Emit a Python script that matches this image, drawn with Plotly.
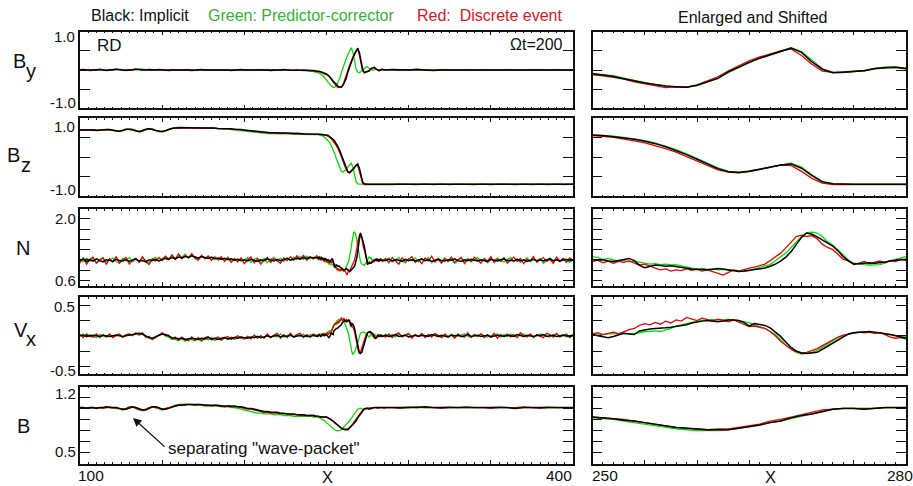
import plotly.graph_objects as go

W, H = 913, 486
FONT = "Liberation Sans, Arial, Helvetica, sans-serif"

# ---------------------------------------------------------------- grids
# smooth fields (By, Bz, |B|): coarse outside the front, unit spacing across it
X_SMOOTH = list(range(100, 241, 2)) + list(range(241, 287)) + list(range(290, 401, 5))
# noisy fields (N, Vx): half-unit spacing across the front
X_NOISY = list(range(100, 245, 2)) + [244.5 + 0.5 * i for i in range(80)] + list(range(286, 401, 2))

# predictor-corrector curves are shifted by this much in the enlarged column
GREEN_SHIFT = 4.0

# ---------------------------------------------------------------- By
BY_BLACK = [
    0.00, 0.01, 0.00, -0.01, 0.00, 0.01, 0.01, 0.00, -0.01, 0.00,
    0.01, 0.02, 0.01, 0.00, -0.01, 0.00, 0.01, 0.02, 0.01, 0.00,
    0.00, 0.01, 0.00, 0.00, 0.01, 0.00, 0.00, -0.01, 0.00, 0.00,
    0.00, 0.01, 0.00, 0.00, -0.01, 0.00, 0.00, 0.01, 0.00, 0.00,
    0.00, 0.00, 0.01, 0.00, 0.00, 0.00, -0.01, 0.00, 0.00, 0.01,
    0.00, 0.00, 0.00, 0.01, 0.00, 0.00, 0.00, 0.00, -0.01, 0.00,
    0.00, 0.00, 0.01, 0.00, 0.00, 0.00, 0.00, -0.01, -0.01, -0.01,
    -0.01,
    -0.01, -0.01, -0.02, -0.02, -0.03, -0.04, -0.05, -0.07, -0.08, -0.10,
    -0.13, -0.17, -0.23, -0.29, -0.34, -0.38, -0.42, -0.44, -0.45, -0.40,
    -0.30, -0.22, -0.05, 0.08, 0.20, 0.31, 0.40, 0.48, 0.57, 0.46,
    0.21, 0.02, -0.07, -0.06, -0.04, -0.02, 0.03, 0.06, 0.07, 0.03,
    0.00, -0.02, 0.00, 0.02, 0.01, 0.00,
    0.01, 0.00, 0.00, 0.01, 0.00, -0.01, 0.00, 0.00, 0.01, 0.00, 0.00, 0.00,
    0.01, 0.00, 0.00, 0.00, 0.00, 0.01, 0.00, 0.00, 0.00, 0.00, 0.00,
]
BY_RED = [
    0.01, -0.01, 0.00, 0.01, 0.00, -0.01, 0.02, 0.00, -0.01, 0.01,
    0.00, 0.02, 0.01, -0.01, 0.00, 0.01, 0.00, 0.02, 0.01, -0.01,
    0.01, 0.00, -0.01, 0.01, 0.00, 0.01, -0.01, 0.00, 0.01, 0.00,
    -0.01, 0.01, 0.00, 0.00, 0.01, -0.01, 0.00, 0.01, 0.00, -0.01,
    0.00, 0.01, 0.00, 0.01, -0.01, 0.00, 0.00, 0.01, -0.01, 0.00,
    0.01, 0.00, -0.01, 0.00, 0.01, 0.00, 0.00, -0.01, 0.00, 0.01,
    0.00, -0.01, 0.00, 0.01, 0.00, -0.01, 0.00, -0.01, 0.00, -0.01,
    -0.01,
    -0.01, -0.02, -0.02, -0.03, -0.04, -0.05, -0.06, -0.08, -0.10, -0.12,
    -0.15, -0.19, -0.24, -0.31, -0.36, -0.42, -0.46, -0.44, -0.45, -0.39,
    -0.28, -0.18, -0.02, 0.12, 0.24, 0.34, 0.43, 0.50, 0.55, 0.38,
    0.15, -0.03, -0.06, -0.05, -0.03, -0.02, 0.04, 0.06, 0.07, 0.03,
    0.00, -0.02, 0.01, 0.02, 0.00, 0.01,
    0.01, -0.01, 0.00, 0.02, 0.00, -0.01, 0.01, 0.00, -0.01, 0.01, 0.00, 0.01,
    -0.01, 0.00, 0.01, 0.00, -0.01, 0.01, 0.00, 0.00, 0.01, -0.01, 0.00,
]
BY_GREEN = [
    0.00, 0.00, 0.01, 0.00, -0.01, 0.00, 0.01, 0.00, 0.00, -0.01,
    0.00, 0.01, 0.02, 0.01, 0.00, -0.01, 0.01, 0.02, 0.03, 0.02,
    0.00, -0.01, 0.00, 0.01, 0.00, 0.00, 0.01, 0.00, -0.01, 0.00,
    0.00, 0.01, 0.00, -0.01, 0.00, 0.00, 0.01, 0.00, 0.00, 0.00,
    0.01, 0.00, 0.00, -0.01, 0.00, 0.01, 0.00, 0.00, 0.00, 0.01,
    0.00, 0.00, -0.01, 0.00, 0.00, 0.01, 0.00, 0.00, -0.01, 0.00,
    0.00, 0.01, 0.00, 0.00, -0.01, -0.01, 0.00, -0.01, -0.01, -0.02,
    -0.02,
    -0.03, -0.04, -0.05, -0.07, -0.08, -0.09, -0.12, -0.15, -0.21, -0.27,
    -0.33, -0.38, -0.42, -0.45, -0.45, -0.41, -0.31, -0.22, -0.07, 0.07,
    0.19, 0.30, 0.40, 0.50, 0.58, 0.48, 0.25, 0.03, -0.06, -0.07,
    -0.04, -0.01, 0.04, 0.08, 0.08, 0.04, 0.01, -0.01, 0.00, 0.02,
    0.01, 0.00, -0.01, 0.00, 0.01, 0.00,
    0.00, 0.01, 0.00, -0.01, 0.00, 0.01, 0.00, 0.00, 0.01, 0.00, -0.01, 0.00,
    0.01, 0.00, 0.00, -0.01, 0.00, 0.01, 0.00, 0.00, 0.00, 0.01, 0.00,
]

# ---------------------------------------------------------------- Bz
BZ_BLACK = [
    0.70, 0.70, 0.71, 0.70, 0.70, 0.69, 0.70, 0.70, 0.71, 0.71,
    0.70, 0.68, 0.67, 0.69, 0.72, 0.72, 0.71, 0.68, 0.66, 0.68,
    0.72, 0.73, 0.72, 0.69, 0.67, 0.66, 0.68, 0.72, 0.74, 0.75,
    0.76, 0.76, 0.76, 0.76, 0.76, 0.76, 0.75, 0.75, 0.75, 0.75,
    0.75, 0.75, 0.74, 0.74, 0.74, 0.73, 0.73, 0.72, 0.72, 0.71,
    0.70, 0.69, 0.68, 0.67, 0.66, 0.65, 0.64, 0.63, 0.63, 0.63,
    0.62, 0.62, 0.62, 0.62, 0.61, 0.61, 0.61, 0.61, 0.60, 0.60,
    0.60,
    0.60, 0.60, 0.60, 0.60, 0.59, 0.59, 0.59, 0.58, 0.58, 0.57,
    0.56, 0.53, 0.50, 0.46, 0.41, 0.35, 0.27, 0.18, 0.07, -0.05,
    -0.18, -0.29, -0.37, -0.39, -0.36, -0.31, -0.26, -0.20, -0.17, -0.28,
    -0.47, -0.63, -0.68, -0.69, -0.69, -0.69, -0.69, -0.69, -0.69, -0.69,
    -0.69, -0.69, -0.69, -0.69, -0.69, -0.69,
    -0.69, -0.69, -0.70, -0.69, -0.69, -0.69, -0.70, -0.69, -0.69, -0.69, -0.69, -0.70,
    -0.69, -0.69, -0.69, -0.69, -0.70, -0.69, -0.69, -0.69, -0.69, -0.69, -0.69,
]
BZ_RED = [
    0.70, 0.71, 0.70, 0.70, 0.71, 0.69, 0.70, 0.71, 0.70, 0.71,
    0.69, 0.67, 0.67, 0.70, 0.72, 0.71, 0.70, 0.67, 0.66, 0.69,
    0.72, 0.73, 0.71, 0.68, 0.66, 0.66, 0.69, 0.73, 0.74, 0.75,
    0.75, 0.76, 0.75, 0.76, 0.75, 0.76, 0.75, 0.74, 0.75, 0.74,
    0.75, 0.74, 0.74, 0.73, 0.74, 0.73, 0.72, 0.72, 0.71, 0.71,
    0.69, 0.68, 0.68, 0.66, 0.65, 0.64, 0.64, 0.63, 0.62, 0.63,
    0.62, 0.61, 0.62, 0.61, 0.61, 0.60, 0.61, 0.60, 0.60, 0.60,
    0.60,
    0.60, 0.60, 0.59, 0.60, 0.59, 0.58, 0.58, 0.57, 0.57, 0.56,
    0.54, 0.51, 0.47, 0.42, 0.37, 0.30, 0.22, 0.13, 0.02, -0.10,
    -0.22, -0.32, -0.38, -0.40, -0.37, -0.31, -0.25, -0.20, -0.21, -0.36,
    -0.54, -0.66, -0.70, -0.70, -0.70, -0.70, -0.70, -0.70, -0.70, -0.71,
    -0.70, -0.70, -0.70, -0.70, -0.70, -0.70,
    -0.70, -0.69, -0.70, -0.70, -0.69, -0.70, -0.69, -0.70, -0.69, -0.70, -0.70, -0.69,
    -0.70, -0.69, -0.70, -0.70, -0.69, -0.70, -0.69, -0.70, -0.69, -0.70, -0.69,
]
BZ_GREEN = [
    0.70, 0.70, 0.70, 0.71, 0.70, 0.70, 0.69, 0.70, 0.71, 0.70,
    0.69, 0.67, 0.66, 0.68, 0.71, 0.73, 0.72, 0.68, 0.65, 0.67,
    0.71, 0.74, 0.73, 0.69, 0.66, 0.65, 0.67, 0.72, 0.75, 0.76,
    0.77, 0.77, 0.76, 0.76, 0.76, 0.75, 0.75, 0.75, 0.74, 0.74,
    0.74, 0.74, 0.73, 0.73, 0.72, 0.72, 0.71, 0.70, 0.69, 0.68,
    0.67, 0.66, 0.65, 0.64, 0.63, 0.62, 0.62, 0.61, 0.61, 0.61,
    0.60, 0.60, 0.60, 0.60, 0.60, 0.59, 0.59, 0.59, 0.59, 0.59,
    0.59,
    0.59, 0.59, 0.59, 0.58, 0.58, 0.57, 0.56, 0.54, 0.51, 0.47,
    0.43, 0.37, 0.29, 0.20, 0.09, -0.03, -0.16, -0.27, -0.36, -0.38,
    -0.35, -0.30, -0.25, -0.19, -0.15, -0.25, -0.45, -0.62, -0.68, -0.69,
    -0.69, -0.69, -0.69, -0.69, -0.69, -0.69, -0.69, -0.69, -0.69, -0.69,
    -0.69, -0.69, -0.69, -0.69, -0.69, -0.69,
    -0.69, -0.69, -0.69, -0.69, -0.70, -0.69, -0.69, -0.69, -0.69, -0.69, -0.70, -0.69,
    -0.69, -0.69, -0.69, -0.70, -0.69, -0.69, -0.69, -0.69, -0.69, -0.69, -0.69,
]

# ---------------------------------------------------------------- N
N_BLACK = [
    1.05, 1.08, 1.03, 1.07, 1.04, 1.09, 1.05, 1.02, 1.07, 1.06, 1.03, 1.08, 1.05,
    1.04, 1.07, 1.03, 1.06, 1.09, 1.04, 1.05, 1.02, 1.07, 1.05, 1.08, 1.04,
    1.07, 1.10, 1.08, 1.12, 1.09, 1.13, 1.11, 1.15, 1.12, 1.16, 1.13, 1.11,
    1.14, 1.12, 1.10, 1.13, 1.09, 1.11, 1.08, 1.10, 1.07, 1.09, 1.06,
    1.08, 1.05, 1.07, 1.04, 1.08, 1.06, 1.03, 1.07, 1.05, 1.09, 1.06, 1.04, 1.08,
    1.05, 1.07, 1.10, 1.06, 1.09, 1.11, 1.08, 1.12, 1.10, 1.13, 1.11, 1.12,
    1.12, 1.10, 1.13, 1.11, 1.09, 1.12, 1.10, 1.08, 1.10, 1.07,
    1.09, 1.08, 1.06, 1.07, 1.04, 1.03, 1.05, 1.07, 1.10, 1.05,
    0.94, 0.89, 0.92, 0.95, 0.94, 0.92, 0.93, 0.91, 0.89, 0.87,
    0.86, 0.85, 0.84, 0.84, 0.85, 0.87, 0.86, 0.84, 0.82, 0.80,
    0.81, 0.83, 0.85, 0.86, 0.88, 0.92, 0.97, 1.04, 1.13, 1.25,
    1.42, 1.58, 1.68, 1.65, 1.59, 1.52, 1.46, 1.38, 1.27, 1.14,
    1.04, 0.97, 0.98, 0.99, 1.00, 0.99, 1.00, 1.02, 1.04, 1.06,
    1.07, 1.08, 1.06, 1.09, 1.05, 1.07, 1.04, 1.08, 1.06, 1.05,
    1.05, 1.08, 1.04, 1.07, 1.06, 1.03, 1.08, 1.05, 1.07, 1.04,
    1.06, 1.09, 1.05, 1.07, 1.03, 1.06, 1.08, 1.05, 1.04, 1.07,
    1.06, 1.09, 1.05, 1.03, 1.07, 1.05, 1.08, 1.06, 1.04, 1.07,
    1.05, 1.03, 1.08, 1.06, 1.04, 1.07, 1.09, 1.05, 1.06, 1.04,
    1.08, 1.05, 1.07, 1.03, 1.06, 1.08, 1.05, 1.07, 1.04, 1.06,
    1.09, 1.05, 1.07, 1.04, 1.06, 1.08, 1.05, 1.06,
]
N_RED = [
    1.00, 1.12, 0.97, 1.08, 1.13, 0.99, 1.05, 1.11, 0.96, 1.09, 1.02, 1.14, 0.99,
    1.07, 1.12, 0.97, 1.06, 1.10, 1.01, 1.14, 1.03, 0.96, 1.09, 1.04, 1.12,
    1.05, 1.15, 1.07, 1.18, 1.08, 1.20, 1.09, 1.16, 1.11, 1.21, 1.10, 1.06,
    1.17, 1.09, 1.15, 1.05, 1.13, 1.07, 1.14, 1.03, 1.12, 1.01, 1.09,
    1.02, 1.11, 0.98, 1.07, 1.13, 1.00, 1.09, 0.97, 1.06, 1.12, 1.01, 1.10, 1.04,
    0.99, 1.11, 1.05, 1.14, 1.06, 1.16, 1.08, 1.17, 1.06, 1.13, 1.09, 1.16,
    1.15, 1.09, 1.13, 1.06, 1.10, 1.05, 1.11, 1.07, 1.03, 1.08,
    1.04, 1.03, 1.06, 1.00, 1.04, 0.99, 1.03, 1.01, 1.05, 0.99,
    0.95, 0.97, 0.92, 0.88, 0.84, 0.86, 0.81, 0.84, 0.82, 0.86,
    0.83, 0.85, 0.81, 0.84, 0.80, 0.76, 0.72, 0.78, 0.83, 0.81,
    0.85, 0.88, 0.90, 0.93, 0.97, 1.05, 1.14, 1.22, 1.34, 1.48,
    1.60, 1.63, 1.60, 1.62, 1.55, 1.42, 1.35, 1.30, 1.18, 1.08,
    1.05, 0.96, 0.99, 1.03, 0.98, 1.01, 1.04, 1.00, 1.05, 1.03,
    1.08, 1.05, 1.10, 1.04, 1.07, 1.02, 1.09, 1.05, 1.08, 1.03,
    1.10, 1.00, 1.12, 1.04, 0.97, 1.11, 1.03, 1.08, 1.14, 1.01,
    1.07, 0.98, 1.11, 1.04, 1.15, 1.02, 1.08, 0.99, 1.10, 1.04,
    1.13, 1.01, 1.07, 1.12, 0.98, 1.08, 1.03, 1.13, 1.06, 0.99,
    1.10, 1.04, 1.14, 1.01, 1.08, 1.03, 1.12, 0.99, 1.06, 1.13,
    1.03, 1.10, 0.98, 1.08, 1.05, 1.14, 1.01, 1.07, 1.12, 1.03,
    1.08, 0.99, 1.13, 1.04, 1.10, 1.01, 1.11, 1.06,
]
N_GREEN = [
    1.09, 1.02, 1.11, 1.04, 1.10, 1.00, 1.08, 1.12, 1.02, 1.06, 1.11, 1.03, 0.99,
    1.10, 1.05, 1.12, 1.02, 1.08, 1.04, 1.11, 1.05, 1.00, 1.09, 1.12, 1.04,
    1.10, 1.15, 1.09, 1.17, 1.10, 1.19, 1.12, 1.20, 1.11, 1.17, 1.14, 1.08,
    1.15, 1.10, 1.16, 1.07, 1.14, 1.06, 1.11, 1.05, 1.13, 1.04, 1.10,
    1.03, 1.10, 1.05, 1.12, 1.01, 1.08, 1.11, 1.03, 1.10, 1.00, 1.08, 1.12, 1.04,
    1.10, 1.03, 1.11, 1.06, 1.13, 1.07, 1.14, 1.08, 1.15, 1.09, 1.13, 1.11,
    1.10, 1.07, 1.11, 1.14, 1.12, 1.08, 1.10, 1.06, 1.03, 1.05,
    1.02, 1.04, 1.01, 0.99, 0.97, 0.98, 0.96, 0.97, 0.95, 0.96,
    0.93, 0.90, 0.88, 0.86, 0.87, 0.85, 0.86, 0.84, 0.85, 0.83,
    0.84, 0.82, 0.80, 0.82, 0.86, 0.90, 0.93, 0.96, 1.04, 1.14,
    1.22, 1.34, 1.48, 1.60, 1.69, 1.70, 1.68, 1.60, 1.48, 1.40,
    1.29, 1.17, 1.06, 0.99, 0.97, 0.96, 0.95, 0.95, 0.96, 1.00,
    1.05, 1.08, 1.11, 1.14, 1.10, 1.12, 1.08, 1.05, 1.07, 1.04,
    1.06, 1.03, 1.07, 1.05, 1.08, 1.04, 1.06, 1.09, 1.05, 1.07,
    1.06, 1.11, 1.02, 1.08, 1.12, 1.04, 1.00, 1.10, 1.05, 1.11,
    1.02, 1.08, 1.04, 1.12, 1.00, 1.06, 1.10, 1.03, 1.11, 1.02,
    1.08, 0.99, 1.06, 1.11, 1.03, 1.10, 1.02, 1.08, 1.12, 1.04,
    1.06, 1.00, 1.09, 1.04, 1.11, 1.05, 1.02, 1.08, 1.12, 1.03,
    1.09, 1.01, 1.06, 1.11, 1.02, 1.08, 1.04, 1.10, 0.99, 1.06,
    1.11, 1.03, 1.08, 1.02, 1.10, 1.05, 1.01, 1.08,
]

# ---------------------------------------------------------------- Vx
VX_BLACK = [
    0.00, 0.01, -0.01, 0.00, 0.01, 0.00, -0.01, 0.01, 0.00, -0.01, 0.00, 0.01, 0.00, -0.01, 0.00,
    0.01, 0.02, 0.03, 0.04, 0.03, 0.00, -0.03, -0.04, -0.02, 0.01, 0.03, 0.02, -0.01, -0.03, -0.04,
    -0.05, -0.04, -0.06, -0.05, -0.04, -0.05, -0.06, -0.04, -0.05, -0.03,
    -0.05, -0.04, -0.06, -0.04, -0.03, -0.05, -0.04, -0.03, -0.04, -0.02,
    -0.03, -0.04, -0.02, -0.03, -0.01, -0.03, -0.02, 0.00, -0.02, -0.01, 0.01, -0.02,
    0.00, -0.01, 0.01, -0.02, 0.00, 0.01, -0.01, 0.00, -0.02, 0.01, -0.01,
    -0.01, 0.00, 0.02, 0.01, -0.01, 0.00, 0.02, 0.01, 0.00, 0.01,
    0.02, 0.02, 0.00, -0.02, -0.03, -0.01, 0.02, 0.04, 0.03, 0.02,
    0.08, 0.10, 0.11, 0.12, 0.12, 0.13, 0.14, 0.15, 0.16, 0.18,
    0.21, 0.23, 0.24, 0.25, 0.24, 0.23, 0.24, 0.26, 0.26, 0.25,
    0.22, 0.16, 0.20, 0.19, 0.17, 0.13, 0.06, -0.01, -0.10, -0.19,
    -0.25, -0.28, -0.29, -0.28, -0.27, -0.22, -0.17, -0.12, -0.06, -0.01,
    0.03, 0.05, 0.06, 0.07, 0.07, 0.06, 0.05, 0.04, 0.02, 0.00,
    -0.02, -0.04, -0.03, -0.01, 0.01, 0.00, -0.01, 0.01, 0.00, -0.01,
    0.01, -0.01, 0.00, 0.02, -0.01, 0.00, 0.01, -0.02, 0.00, 0.01,
    -0.01, 0.01, 0.00, -0.01, 0.02, 0.00, -0.01, 0.01, 0.00, -0.02,
    0.01, 0.00, 0.01, -0.01, 0.00, 0.02, -0.01, 0.00, 0.01, -0.01,
    0.00, 0.01, -0.02, 0.00, 0.01, 0.00, -0.01, 0.01, 0.00, -0.01,
    0.02, 0.00, -0.01, 0.01, 0.00, -0.01, 0.01, 0.00, 0.02, -0.01,
    0.00, 0.01, -0.01, 0.00, 0.01, 0.00, -0.01, 0.00,
]
VX_RED = [
    0.02, -0.03, 0.03, -0.01, -0.02, 0.03, -0.03, 0.02, -0.02, 0.03, -0.03, 0.01, 0.03, -0.03, 0.02,
    0.03, 0.00, 0.05, 0.02, 0.05, -0.02, -0.01, -0.06, -0.02, 0.01, 0.05, 0.00, 0.01, -0.05, -0.02,
    -0.07, -0.02, -0.06, -0.08, -0.02, -0.07, -0.03, -0.08, -0.03, -0.01,
    -0.07, -0.04, -0.02, -0.07, -0.03, -0.01, -0.06, -0.03, 0.00, -0.04,
    -0.05, -0.01, -0.05, 0.01, -0.04, 0.00, -0.04, 0.03, -0.03, 0.01, 0.04, -0.04,
    0.02, -0.03, 0.04, -0.02, 0.02, 0.04, -0.03, 0.02, -0.02, 0.03, 0.00,
    0.01, -0.02, 0.03, 0.00, 0.02, -0.01, 0.03, 0.02, 0.04, 0.01,
    0.03, 0.03, 0.05, 0.02, 0.04, 0.06, 0.03, 0.07, 0.10, 0.12,
    0.17, 0.20, 0.18, 0.22, 0.19, 0.24, 0.21, 0.26, 0.24, 0.30,
    0.27, 0.25, 0.29, 0.26, 0.24, 0.27, 0.25, 0.23, 0.26, 0.22,
    0.18, 0.15, 0.16, 0.14, 0.12, 0.07, 0.00, -0.09, -0.16, -0.22,
    -0.26, -0.28, -0.27, -0.24, -0.21, -0.16, -0.11, -0.06, -0.02, 0.01,
    0.03, 0.04, 0.06, 0.05, 0.06, 0.04, 0.05, 0.02, -0.02, -0.04,
    -0.03, -0.05, -0.02, 0.00, -0.02, 0.01, -0.01, 0.02, -0.01, 0.00,
    -0.02, 0.03, -0.03, 0.02, 0.05, -0.02, 0.01, 0.03, -0.04, 0.02,
    -0.01, 0.04, -0.03, 0.02, -0.02, 0.04, 0.00, -0.03, 0.03, -0.02,
    0.02, -0.04, 0.03, -0.01, -0.02, 0.05, -0.03, 0.02, -0.01, 0.03,
    -0.03, 0.02, -0.02, 0.04, -0.04, 0.02, -0.01, 0.03, -0.02, 0.02,
    -0.03, 0.05, 0.00, -0.02, 0.03, -0.03, 0.02, -0.01, -0.03, 0.04,
    0.02, -0.02, 0.04, -0.02, 0.01, 0.03, -0.03, 0.02,
]
VX_GREEN = [
    0.01, 0.03, -0.02, 0.02, -0.01, -0.03, 0.02, 0.00, -0.02, 0.02, -0.03, 0.01, 0.02, -0.02, 0.01,
    0.02, 0.01, 0.04, 0.01, 0.03, -0.02, -0.04, -0.06, -0.03, 0.01, 0.03, 0.00, -0.02, -0.06, -0.06,
    -0.08, -0.04, -0.09, -0.05, -0.06, -0.08, -0.05, -0.09, -0.04, -0.07,
    -0.03, -0.08, -0.04, -0.07, -0.03, -0.06, -0.02, -0.06, -0.03, -0.02,
    -0.05, -0.01, -0.04, 0.01, -0.04, 0.00, -0.03, 0.02, -0.03, 0.01, -0.02, 0.03,
    -0.02, 0.01, 0.03, -0.02, 0.02, -0.01, 0.03, -0.02, 0.02, 0.00, 0.01,
    0.01, 0.02, 0.01, 0.02, 0.03, 0.02, 0.03, 0.03, 0.04, 0.03,
    0.04, 0.04, 0.05, 0.07, 0.07, 0.08, 0.07, 0.09, 0.12, 0.16,
    0.18, 0.21, 0.23, 0.24, 0.25, 0.26, 0.27, 0.26, 0.27, 0.27,
    0.26, 0.25, 0.23, 0.21, 0.18, 0.15, 0.12, 0.07, 0.02, -0.06,
    -0.15, -0.22, -0.27, -0.30, -0.29, -0.27, -0.24, -0.19, -0.13, -0.08,
    -0.03, 0.00, 0.03, 0.05, 0.06, 0.06, 0.06, 0.06, 0.05, 0.03,
    0.02, 0.01, -0.01, -0.02, 0.00, 0.02, 0.01, -0.01, 0.01, 0.03,
    0.00, 0.02, -0.01, 0.01, 0.02, -0.01, 0.01, 0.00, 0.02, -0.01,
    0.03, -0.01, 0.02, -0.02, 0.03, 0.00, 0.02, 0.04, -0.02, 0.02,
    -0.01, 0.03, -0.02, 0.02, 0.00, 0.03, 0.01, -0.02, 0.02, -0.01,
    0.03, -0.02, 0.00, 0.02, 0.03, -0.01, -0.02, 0.02, 0.00, 0.03,
    0.01, -0.02, 0.00, 0.02, 0.03, -0.02, 0.02, -0.01, 0.03, 0.00,
    -0.02, 0.02, 0.03, -0.01, 0.02, -0.02, 0.00, 0.03, 0.01, -0.01,
    -0.02, 0.02, 0.03, 0.00, 0.02, -0.02, 0.00, 0.02,
]

# ---------------------------------------------------------------- |B|
B_BLACK = [
    1.07, 1.07, 1.06, 1.07, 1.07, 1.06, 1.07, 1.07, 1.08, 1.07,
    1.07, 1.07, 1.06, 1.05, 1.05, 1.07, 1.08, 1.07, 1.05, 1.04,
    1.04, 1.06, 1.08, 1.08, 1.07, 1.05, 1.05, 1.06, 1.08, 1.09,
    1.10, 1.10, 1.11, 1.11, 1.11, 1.11, 1.11, 1.11, 1.10, 1.10,
    1.10, 1.10, 1.10, 1.09, 1.09, 1.09, 1.09, 1.09, 1.08, 1.08,
    1.07, 1.06, 1.06, 1.05, 1.04, 1.03, 1.02, 1.02, 1.01, 1.01,
    1.01, 1.00, 1.00, 0.99, 0.99, 0.99, 0.98, 0.98, 0.98, 0.97,
    0.97,
    0.97, 0.97, 0.96, 0.96, 0.96, 0.95, 0.95, 0.95, 0.95, 0.95,
    0.94, 0.93, 0.91, 0.90, 0.88, 0.86, 0.84, 0.82, 0.81, 0.80,
    0.79, 0.79, 0.79, 0.81, 0.83, 0.85, 0.88, 0.90, 0.94, 0.97,
    0.99, 1.02, 1.05, 1.06, 1.06, 1.05, 1.06, 1.07, 1.07, 1.07,
    1.07, 1.07, 1.07, 1.07, 1.07, 1.07,
    1.07, 1.07, 1.07, 1.07, 1.08, 1.07, 1.07, 1.07, 1.07, 1.07, 1.07, 1.07,
    1.07, 1.07, 1.07, 1.06, 1.07, 1.07, 1.07, 1.07, 1.07, 1.07, 1.07,
]
B_RED = [
    1.07, 1.06, 1.07, 1.07, 1.06, 1.07, 1.07, 1.06, 1.07, 1.08,
    1.07, 1.06, 1.06, 1.05, 1.06, 1.08, 1.08, 1.06, 1.04, 1.04,
    1.05, 1.07, 1.08, 1.07, 1.06, 1.05, 1.06, 1.07, 1.08, 1.09,
    1.10, 1.11, 1.10, 1.11, 1.11, 1.10, 1.11, 1.10, 1.10, 1.10,
    1.09, 1.10, 1.09, 1.09, 1.08, 1.09, 1.08, 1.08, 1.08, 1.07,
    1.06, 1.05, 1.05, 1.04, 1.03, 1.02, 1.01, 1.01, 1.00, 1.00,
    1.00, 0.99, 0.99, 0.99, 0.98, 0.98, 0.98, 0.97, 0.97, 0.97,
    0.97,
    0.97, 0.97, 0.97, 0.96, 0.96, 0.96, 0.95, 0.95, 0.95, 0.95,
    0.94, 0.93, 0.92, 0.90, 0.88, 0.86, 0.84, 0.82, 0.81, 0.80,
    0.79, 0.80, 0.80, 0.82, 0.84, 0.86, 0.90, 0.92, 0.95, 0.98,
    1.01, 1.04, 1.05, 1.06, 1.06, 1.06, 1.06, 1.07, 1.07, 1.07,
    1.06, 1.07, 1.07, 1.07, 1.06, 1.07,
    1.07, 1.06, 1.07, 1.08, 1.07, 1.07, 1.06, 1.07, 1.07, 1.08, 1.07, 1.07,
    1.06, 1.07, 1.07, 1.07, 1.08, 1.07, 1.06, 1.07, 1.07, 1.07, 1.07,
]
B_GREEN = [
    1.07, 1.07, 1.07, 1.06, 1.07, 1.07, 1.06, 1.07, 1.07, 1.07,
    1.06, 1.06, 1.05, 1.04, 1.05, 1.07, 1.08, 1.06, 1.04, 1.03,
    1.04, 1.06, 1.08, 1.07, 1.05, 1.04, 1.05, 1.07, 1.09, 1.10,
    1.11, 1.11, 1.11, 1.11, 1.10, 1.10, 1.10, 1.10, 1.09, 1.09,
    1.09, 1.09, 1.09, 1.08, 1.08, 1.08, 1.07, 1.07, 1.06, 1.05,
    1.04, 1.03, 1.02, 1.01, 1.00, 1.00, 0.99, 0.99, 0.99, 0.98,
    0.98, 0.98, 0.97, 0.97, 0.97, 0.96, 0.96, 0.96, 0.96, 0.96,
    0.96,
    0.96, 0.95, 0.95, 0.95, 0.95, 0.94, 0.93, 0.92, 0.90, 0.88,
    0.86, 0.84, 0.82, 0.80, 0.79, 0.78, 0.78, 0.78, 0.79, 0.81,
    0.83, 0.85, 0.88, 0.90, 0.93, 0.96, 0.99, 1.02, 1.05, 1.06,
    1.06, 1.05, 1.06, 1.07, 1.07, 1.07, 1.07, 1.07, 1.07, 1.07,
    1.07, 1.07, 1.07, 1.07, 1.07, 1.07,
    1.07, 1.07, 1.08, 1.07, 1.07, 1.07, 1.07, 1.08, 1.07, 1.07, 1.07, 1.07,
    1.07, 1.08, 1.07, 1.07, 1.07, 1.07, 1.07, 1.08, 1.07, 1.07, 1.07,
]

for name, grid, arrays in [
    ("By", X_SMOOTH, (BY_BLACK, BY_RED, BY_GREEN)),
    ("Bz", X_SMOOTH, (BZ_BLACK, BZ_RED, BZ_GREEN)),
    ("N", X_NOISY, (N_BLACK, N_RED, N_GREEN)),
    ("Vx", X_NOISY, (VX_BLACK, VX_RED, VX_GREEN)),
    ("B", X_SMOOTH, (B_BLACK, B_RED, B_GREEN)),
]:
    assert all(len(a) == len(grid) for a in arrays), (name, len(grid), [len(a) for a in arrays])

# ---------------------------------------------------------------- panel setup
LINE_BLACK = "#000000"
LINE_RED = "#ee0000"
LINE_GREEN = "#00e000"
TEXT_GREEN = "#33b233"
TEXT_RED = "#e0141c"
INK = "#111111"

# rows: grid, black, red, green, y-range, tick values
ROWS = [
    (X_SMOOTH, BY_BLACK, BY_RED, BY_GREEN, [-1.0, 1.0], [-0.5, 0.0, 0.5]),
    (X_SMOOTH, BZ_BLACK, BZ_RED, BZ_GREEN, [-1.0, 1.0], [-0.5, 0.0, 0.5]),
    (X_NOISY, N_BLACK, N_RED, N_GREEN, [0.477, 2.228],
     [0.6, 0.8333, 1.0667, 1.3, 1.5333, 1.7667, 2.0]),
    (X_NOISY, VX_BLACK, VX_RED, VX_GREEN, [-0.63, 0.63], [-0.5, -0.25, 0.0, 0.25, 0.5]),
    (X_SMOOTH, B_BLACK, B_RED, B_GREEN, [0.361, 1.334], [0.5, 0.64, 0.78, 0.92, 1.06, 1.2]),
]

# panel frames in pixels (top, bottom) for each row, and (left, right) per column
ROW_PX = [(31.7, 108.3), (118.3, 196.3), (209.0, 285.7), (297.3, 374.3), (386.7, 463.7)]
COL_PX = [(80.0, 573.0), (592.5, 906.0)]
COL_RANGE = [[100, 400], [250, 280]]
COL_DTICK = [(50, 5), (5, 1)]

fig = go.Figure()
layout = dict(
    width=W, height=H, margin=dict(l=0, r=0, t=0, b=0),
    paper_bgcolor="white", plot_bgcolor="white", showlegend=False,
    font=dict(family=FONT, color=INK),
)

n = 0
for r, (grid, yb, yr, yg, yrange, yticks) in enumerate(ROWS):
    top, bot = ROW_PX[r]
    for c in range(2):
        n += 1
        xa = "x" if n == 1 else f"x{n}"
        ya = "y" if n == 1 else f"y{n}"
        left, right = COL_PX[c]
        major, minor = COL_DTICK[c]
        layout["xaxis" if n == 1 else f"xaxis{n}"] = dict(
            domain=[left / W, right / W], range=COL_RANGE[c], anchor=ya,
            showline=True, linecolor=INK, linewidth=1.5, mirror="allticks",
            ticks="inside", ticklen=4, tickwidth=1.2, tickcolor=INK,
            tick0=100, dtick=major, showticklabels=False, showgrid=False, zeroline=False,
            minor=dict(dtick=minor, tick0=100, ticks="inside", ticklen=2,
                       tickwidth=1, tickcolor=INK, showgrid=False),
        )
        layout["yaxis" if n == 1 else f"yaxis{n}"] = dict(
            domain=[1 - bot / H, 1 - top / H], range=yrange, anchor=xa,
            showline=True, linecolor=INK, linewidth=1.5, mirror="allticks",
            ticks="inside", ticklen=10, tickwidth=1.2, tickcolor=INK,
            tickmode="array", tickvals=yticks, showticklabels=False,
            showgrid=False, zeroline=False,
        )
        xg = grid if c == 0 else [x + GREEN_SHIFT for x in grid]
        fig.add_trace(go.Scatter(x=xg, y=yg, mode="lines", xaxis=xa, yaxis=ya,
                                 line=dict(color=LINE_GREEN, width=1.3), hoverinfo="skip"))
        fig.add_trace(go.Scatter(x=grid, y=yr, mode="lines", xaxis=xa, yaxis=ya,
                                 line=dict(color=LINE_RED, width=1.3), hoverinfo="skip"))
        fig.add_trace(go.Scatter(x=grid, y=yb, mode="lines", xaxis=xa, yaxis=ya,
                                 line=dict(color=LINE_BLACK, width=1.5), hoverinfo="skip"))

fig.update_layout(**layout)


def text(x, y, s, size, color=INK, xanchor="center", yanchor="middle"):
    fig.add_annotation(x=x / W, y=1 - y / H, xref="paper", yref="paper", text=s,
                       showarrow=False, xanchor=xanchor, yanchor=yanchor,
                       borderpad=0, borderwidth=0,
                       font=dict(family=FONT, size=size, color=color))


# headers
text(90.7, 16, "Black: Implicit", 16, xanchor="left")
text(208.3, 16, "Green: Predictor-corrector", 16, TEXT_GREEN, xanchor="left")
text(416.7, 16, "Red:\u00a0 Discrete event", 16, TEXT_RED, xanchor="left")
text(752.5, 17, "Enlarged and Shifted", 16)

# panel notes
text(96.7, 45.5, "RD", 17, xanchor="left")
text(562.7, 44.2, "\u03a9t=200", 16, xanchor="right")

# row labels (letter + lowered subscript)
text(19.0, 61.0, "B", 20)
text(31.0, 71.0, "y", 20)
text(13.3, 155.0, "B", 20)
text(26.2, 164.8, "z", 20)
text(22.7, 247.5, "N", 20)
text(21.2, 330.0, "V", 20)
text(31.3, 339.1, "x", 20)
text(23.7, 425.8, "B", 20)

# y tick labels at the ends of each axis (left edge in pixels)
YLAB = [
    (54.0, 36.0, "1.0"), (49.5, 102.8, "-1.0"),
    (54.0, 127.0, "1.0"), (49.5, 189.5, "-1.0"),
    (55.0, 218.0, "2.0"), (55.0, 280.3, "0.6"),
    (53.5, 306.2, "0.5"), (50.0, 370.2, "-0.5"),
    (55.0, 393.7, "1.2"), (55.0, 451.7, "0.5"),
]
for xx, yy, s in YLAB:
    text(xx, yy, s, 15, xanchor="left")

# x tick labels and titles
text(78.3, 475.5, "100", 15.5, xanchor="left")
text(572.0, 475.5, "400", 15.5, xanchor="right")
text(327.0, 476.5, "X", 16.5)
text(592.3, 475.5, "250", 15.5, xanchor="left")
text(899.5, 475.5, "280", 15.5)
text(770.0, 476.5, "X", 16.5)

# wave-packet note with arrow
text(168.3, 448.3, 'separating "wave-packet"', 17, xanchor="left")
fig.add_annotation(x=133 / W, y=1 - 418 / H, xref="paper", yref="paper", text="",
                   showarrow=True, ax=33, ay=30, arrowhead=2, arrowsize=1.3,
                   arrowwidth=1.3, arrowcolor=INK, standoff=0)

fig.write_html("out.html")
